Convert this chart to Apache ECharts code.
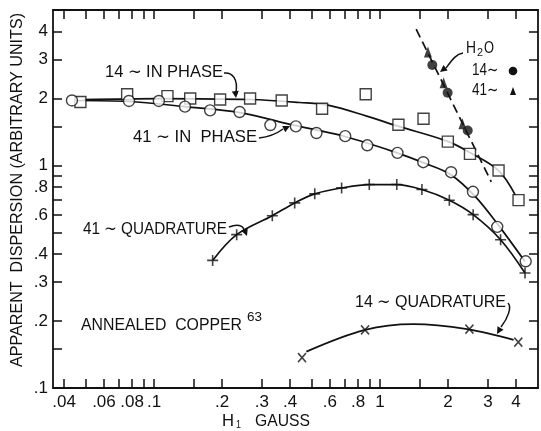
<!DOCTYPE html>
<html>
<head>
<meta charset="utf-8">
<script src="https://cdn.jsdelivr.net/npm/echarts@6/dist/echarts.min.js"></script>
<style>
html,body{margin:0;padding:0;background:#fff;}
#main{width:541px;height:431px;}
</style>
</head>
<body>
<div id="main"></div>
<script>
// ---- Data ----
// 14~ in phase (squares)
const in14X = [0.0472, 0.076, 0.1146, 0.1445, 0.196, 0.266, 0.367, 0.554, 0.864, 1.206, 1.557, 1.995, 2.50, 3.345, 4.10];
const in14Y = [1.93, 2.09, 2.05, 2.00, 1.98, 2.00, 1.96, 1.80, 2.09, 1.525, 1.623, 1.28, 1.128, 0.95, 0.699];
// fitted curve for 14~ in phase
const in14CurveX = [0.0489, 0.105, 0.266, 0.441, 0.60, 0.873, 1.20, 1.979, 2.51, 3.34, 3.98];
const in14CurveY = [1.98, 2.00, 1.98, 1.92, 1.86, 1.667, 1.503, 1.287, 1.141, 0.95, 0.732];

// 41~ in phase (circles)
const in41X = [0.0433, 0.0774, 0.105, 0.137, 0.177, 0.239, 0.327, 0.424, 0.523, 0.701, 0.878, 1.194, 1.553, 2.062, 2.577, 3.30, 4.41];
const in41Y = [1.96, 1.95, 1.95, 1.84, 1.77, 1.74, 1.52, 1.50, 1.40, 1.355, 1.233, 1.14, 1.035, 0.933, 0.762, 0.53, 0.371];
const in41CurveX = [0.0445, 0.0774, 0.136, 0.239, 0.424, 0.70, 1.19, 1.55, 2.05, 2.64, 3.30, 4.38];
const in41CurveY = [1.96, 1.94, 1.84, 1.73, 1.51, 1.35, 1.14, 1.03, 0.911, 0.725, 0.548, 0.37];

// 41~ quadrature (+)
const q41X = [0.1816, 0.232, 0.3336, 0.419, 0.514, 0.676, 0.896, 1.186, 1.532, 2.026, 2.582, 3.415, 4.38];
const q41Y = [0.3745, 0.489, 0.595, 0.679, 0.746, 0.793, 0.821, 0.821, 0.78, 0.698, 0.6015, 0.464, 0.3286];

// 14~ quadrature (x)
const q14X = [0.4515, 0.858, 2.486, 4.09];
const q14Y = [0.137, 0.1825, 0.1838, 0.1607];
const q14CurveX = [0.472, 0.858, 1.406, 2.43, 3.90];
const q14CurveY = [0.1457, 0.1825, 0.1936, 0.1838, 0.1645];

// H2O 14~ (filled circles) and 41~ (filled triangles)
const h2o14X = [1.703, 1.991, 2.443];
const h2o14Y = [2.83, 2.125, 1.438];
const h2o41X = [1.629, 1.911, 2.315];
const h2o41Y = [3.24, 2.358, 1.541];
const h2oLineX = [1.445, 3.105];
const h2oLineY = [4.10, 0.845];

// Axis ticks / labels
const xTicks = [0.04, 0.05, 0.06, 0.07, 0.08, 0.09, 0.1, 0.15, 0.2, 0.3, 0.4, 0.5, 0.6, 0.7, 0.8, 0.9, 1, 1.5, 2, 3, 4];
const xLabels = [0.04, 0.06, 0.08, 0.1, 0.2, 0.3, 0.4, 0.6, 0.8, 1, 2, 3, 4];
const yTicks = [0.1, 0.15, 0.2, 0.3, 0.4, 0.5, 0.6, 0.7, 0.8, 0.9, 1, 1.5, 2, 3, 4];
const yLabels = [0.1, 0.2, 0.3, 0.4, 0.6, 0.8, 1, 2, 3, 4];

const zip = (xs, ys) => xs.map((x, i) => [x, ys[i]]);
const fmt = v => {
  const s = String(parseFloat(Number(v).toPrecision(3)));
  return s.startsWith('0.') ? s.slice(1) : s;
};
const FONT = 'Liberation Sans';
const INK = '#111';

const chart = echarts.init(document.getElementById('main'), null, {renderer: 'canvas'});

function xAxisDef(pos, showLabel) {
  return {
    type: 'log', logBase: 10, min: 0.0357, max: 5, position: pos,
    axisLine: {show: true, lineStyle: {color: INK, width: 1.8}},
    axisTick: {show: true, inside: true, length: 9, customValues: xTicks, lineStyle: {color: INK, width: 1.5}},
    axisLabel: {show: showLabel, customValues: xLabels, formatter: fmt, margin: 6,
      fontFamily: FONT, fontSize: 17, color: INK},
    splitLine: {show: false}, minorTick: {show: false}
  };
}
function yAxisDef(pos, showLabel) {
  return {
    type: 'log', logBase: 10, min: 0.1, max: 5, position: pos,
    axisLine: {show: true, lineStyle: {color: INK, width: 1.8}},
    axisTick: {show: true, inside: true, length: 9, customValues: yTicks, lineStyle: {color: INK, width: 1.5}},
    axisLabel: {show: showLabel, customValues: yLabels, formatter: fmt, margin: 5,
      fontFamily: FONT, fontSize: 17, color: INK},
    splitLine: {show: false}, minorTick: {show: false}
  };
}

const lineSeries = (data, extra) => Object.assign({
  type: 'line', data, smooth: 0.35, showSymbol: false, symbol: 'none',
  lineStyle: {color: INK, width: 1.7}, silent: true, z: 2, xAxisIndex: 0, yAxisIndex: 0
}, extra || {});
const hollow = {color: '#fff', borderColor: INK, borderWidth: 1.4};
const plusPath = 'path://M0,5L10,5M5,0L5,10';
const crossPath = 'path://M1,1L9,9M9,1L1,9';

const option = {
  animation: false,
  backgroundColor: '#fff',
  grid: {left: 53, right: 3, top: 10, bottom: 43, containLabel: false},
  xAxis: [xAxisDef('bottom', true), xAxisDef('top', false)],
  yAxis: [yAxisDef('left', true), yAxisDef('right', false)],
  series: [
    lineSeries(zip(in14CurveX, in14CurveY)),
    lineSeries(zip(in41CurveX, in41CurveY)),
    lineSeries(zip(q41X, q41Y)),
    lineSeries(zip(q14CurveX, q14CurveY)),
    lineSeries(zip(h2oLineX, h2oLineY), {smooth: false, lineStyle: {color: INK, width: 1.7, type: [9, 5]}}),
    {type: 'scatter', data: zip(in14X, in14Y), symbol: 'rect', symbolSize: 11, itemStyle: hollow, z: 5, silent: true},
    {type: 'scatter', data: zip(in41X, in41Y), symbol: 'circle', symbolSize: 11, itemStyle: hollow, z: 5, silent: true},
    {type: 'scatter', data: zip(q41X, q41Y), symbol: plusPath, symbolSize: 11, itemStyle: {color: 'none', borderColor: INK, borderWidth: 1.6}, z: 5, silent: true},
    {type: 'scatter', data: zip(q14X, q14Y), symbol: crossPath, symbolSize: [8, 9], itemStyle: {color: 'none', borderColor: INK, borderWidth: 1.6}, z: 5, silent: true},
    {type: 'scatter', data: zip(h2o14X, h2o14Y), symbol: 'circle', symbolSize: 10, itemStyle: {color: INK}, z: 5, silent: true},
    {type: 'scatter', data: zip(h2o41X, h2o41Y), symbol: 'triangle', symbolSize: [8, 11], itemStyle: {color: INK}, z: 5, silent: true}
  ],
  graphic: []
};

// text measuring to fit label widths to the reference lettering
const mctx = document.createElement('canvas').getContext('2d');
const measure = (text, size) => { mctx.font = size + 'px "' + FONT + '"'; return mctx.measureText(text).width; };

// fitted text: spans from x0 to x1 horizontally, vertically centred at y
const FT = (text, x0, x1, y, size) => ({
  type: 'text', x: x0, y, silent: true, scaleX: (x1 - x0) / measure(text, size), scaleY: 1,
  style: {text, fontFamily: FONT, fontSize: size, fill: INK, textVerticalAlign: 'middle', textAlign: 'left'}
});
const curve = (pts) => ({
  type: 'bezierCurve', silent: true,
  shape: {x1: pts[0], y1: pts[1], cpx1: pts[2], cpy1: pts[3], cpx2: pts[4], cpy2: pts[5], x2: pts[6], y2: pts[7]},
  style: {stroke: INK, lineWidth: 1.5, fill: null}
});
const head = (x, y, ang) => {
  const L = 7, W = 3.5;
  const bx = x - L * Math.cos(ang), by = y - L * Math.sin(ang);
  const px = -Math.sin(ang) * W, py = Math.cos(ang) * W;
  return {type: 'polygon', silent: true,
    shape: {points: [[x, y], [bx + px, by + py], [bx - px, by - py]]}, style: {fill: INK}};
};

const yName = 'APPARENT  DISPERSION (ARBITRARY UNITS)';
option.graphic = [
  // y axis name (rotated, reads bottom to top), spanning y 367 -> 13
  {type: 'text', x: 17, y: 367, rotation: Math.PI / 2, silent: true,
   scaleX: 354 / measure(yName, 16.5), scaleY: 1,
   style: {text: yName, fontFamily: FONT, fontSize: 16.5, fill: INK, textAlign: 'left', textVerticalAlign: 'middle'}},
  // x axis name
  FT('H', 222, 234, 421, 17),
  FT('1', 236, 241, 425, 11),
  FT('GAUSS', 255, 310, 421, 17),
  // curve labels
  FT('14 ∼ IN PHASE', 105, 223, 72, 17),
  curve([224, 73, 233, 72, 238, 80, 236, 92]), head(236, 98, Math.PI / 2 - 0.1),
  FT('41 ∼ IN  PHASE', 133, 257, 137, 17),
  curve([259, 138, 268, 137, 275, 135, 283, 129]), head(290, 126, -0.45),
  FT('41 ∼ QUADRATURE', 83, 227, 229, 17),
  curve([229, 227, 237, 224, 243, 225, 244, 230]), head(247, 236, 1.2),
  FT('14 ∼ QUADRATURE', 355, 506, 302, 17),
  curve([508, 303, 512, 307, 508, 318, 501, 327]), head(497, 334, 2.1),
  FT('ANNEALED  COPPER', 81, 242, 325, 17),
  FT('63', 247, 262, 318, 12),
  // H2O legend
  FT('H', 466, 476, 49, 16),
  FT('2', 477, 483, 53, 11),
  FT('O', 484, 494, 49, 16),
  curve([463, 53, 456, 54, 452, 60, 446, 68]), head(440, 72, 2.5),
  FT('14∼', 472, 498, 71, 16),
  {type: 'circle', silent: true, shape: {cx: 513, cy: 71, r: 4.3}, style: {fill: INK}},
  FT('41∼', 472, 498, 91, 16),
  {type: 'polygon', silent: true, shape: {points: [[513, 87], [510, 95], [516, 95]]}, style: {fill: INK}}
];

chart.setOption(option);
</script>
</body>
</html>
